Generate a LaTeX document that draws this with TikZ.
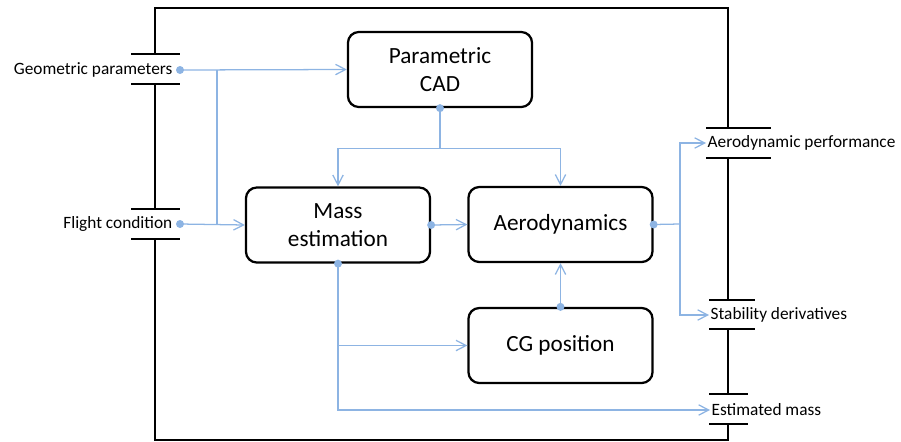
\documentclass[tikz,border=0pt]{standalone}
\usepackage{fontspec}
\setmainfont{Carlito}
\usetikzlibrary{arrows.meta}
\definecolor{linkblue}{RGB}{141,180,227}
\tikzset{
  block/.style={draw=black, line width=1.6pt, rounded corners=0.27cm,
    minimum width=4.6cm, minimum height=1.875cm, align=center,
    font=\fontsize{16.5}{20}\selectfont},
  portlabel/.style={inner sep=1pt, font=\fontsize{12.3}{14}\selectfont},
  frame/.style={draw=black, line width=1.4pt},
  link/.style={draw=linkblue, line width=0.9pt},
  flow/.style={link, -{Straight Barb[length=0.25cm,width=0.26cm]}},
  dot/.style={fill=linkblue}
}
\begin{document}
\begin{tikzpicture}[x=0.025cm,y=-0.025cm]
\useasboundingbox (0,0) rectangle (901,441);
% system border with its ports
\draw[frame] (155,54)--(155,8)--(728,8)--(728,128);
\draw[frame] (155,84)--(155,209);
\draw[frame] (155,239)--(155,440)--(728,440)--(728,424);
\draw[frame] (728,158)--(728,300) (728,329)--(728,394);
\foreach \y in {54,84,209,239}
  \draw[frame] (131,\y)--(180,\y);
\draw[frame] (706,128)--(771,128) (706,158)--(771,158);
\draw[frame] (709,300)--(755,300) (709,329)--(755,329);
\draw[frame] (709,394)--(748,394) (709,424)--(748,424);
% inputs and outputs
\node[portlabel, anchor=east] (geolbl) at (174,70) {Geometric parameters};
\node[portlabel, anchor=east] (fltlbl) at (174,224) {Flight condition};
\coordinate (geo) at (180,70);
\coordinate (flt) at (180,224);
\node[portlabel, anchor=west] (perf) at (706,143) {Aerodynamic performance};
\node[portlabel, anchor=west] (stab) at (709,315) {Stability derivatives};
\node[portlabel, anchor=west] (estm) at (710,410) {Estimated mass};
% blocks
\node[block] (cad) at (440,69.5) {Parametric\\CAD};
\node[block] (mass) at (338,225) {Mass\\estimation};
\node[block] (aero) at (560.5,224.5) {Aerodynamics};
\node[block] (cg) at (560.5,345.5) {CG position};
% connections
\coordinate (split) at (217,70);
\coordinate (fork) at (680,224);
\draw[flow] (geo)--(cad.west);
\draw[link] (split)--(split |- flt);
\draw[flow] (flt)--(mass.west);
\draw[flow] (cad.south)--++(0,40)-|(mass.north);
\draw[flow] (cad.south)--++(0,40)-|(aero.north);
\draw[flow] (mass.east)--(aero.west);
\draw[link] (aero.east)--(fork);
\draw[flow] (fork)|-(perf.west);
\draw[flow] (fork)|-(stab.west);
\draw[flow] (cg.north)--(aero.south);
\draw[flow] (mass.south)|-(estm.west);
\draw[flow] (mass.south |- cg.west)--(cg.west);
\foreach \p in {geo,flt,cad.south,mass.east,aero.east,cg.north,mass.south}
  \fill[dot] (\p) circle[radius=4];
\end{tikzpicture}
\end{document}
